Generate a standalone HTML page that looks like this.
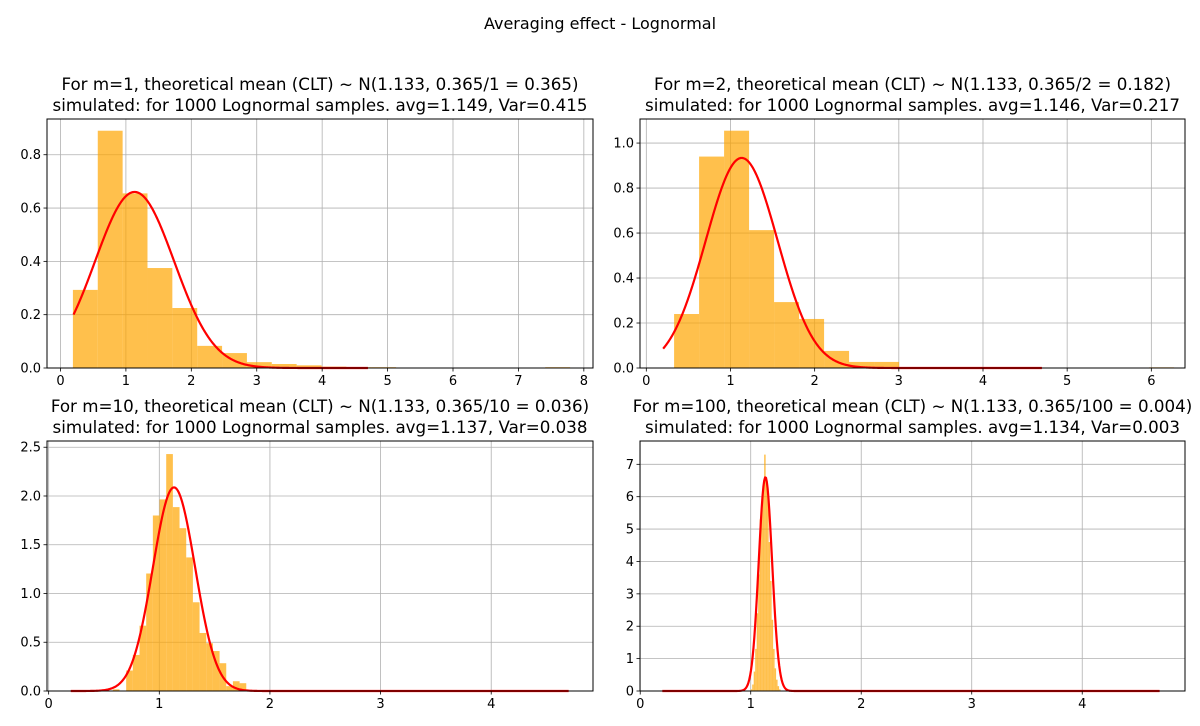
<!DOCTYPE html>
<html><head><meta charset="utf-8"><style>
body{margin:0;background:#fff;}
svg{display:block;font-family:"DejaVu Sans","Liberation Sans",sans-serif;}
</style></head><body>
<svg id="fig" width="1200" height="726" viewBox="0 0 1200 726" xmlns="http://www.w3.org/2000/svg">
<text x="600" y="29" text-anchor="middle" font-size="16">Averaging effect - Lognormal</text>
</svg>
<script>
// ---- data ----
const p1Hist = [0.293,0.89,0.655,0.375,0.225,0.083,0.056,0.022,0.015,0.01,0.005,0.003,0.003,0,0,0,0,0,0,0.003];
const p2Hist = [0.24,0.94,1.055,0.613,0.293,0.218,0.076,0.027,0.027,0.003,0.003,0.003,0,0,0,0,0,0,0,0.003];
const p3Hist = [0.017,0,0.21,0.37,0.67,1.205,1.80,1.965,2.43,1.886,1.67,1.37,0.91,0.595,0.49,0.41,0.285,0.05,0.1,0.08];
const p4Hist = [0.05,0.2,0.6,1.3,2.4,3.6,5.3,5.6,6.3,7.3,6.6,6.0,4.6,3.4,2.2,1.3,0.7,0.35,0.15,0.05];
const binStart = [0.19,0.33,0.58,1.0];
const binWidth = [0.38,0.297,0.0603,0.0135];
const mValues = [1,2,10,100];
const cltMean = 1.133;
const cltVar = 0.365;
const simAvg = ["1.149","1.146","1.137","1.134"];
const simVar = ["0.415","0.217","0.038","0.003"];
const xTicks = [[0,1,2,3,4,5,6,7,8],[0,1,2,3,4,5,6],[0,1,2,3,4],[0,1,2,3,4]];
const yTicks = [[0,0.2,0.4,0.6,0.8],[0,0.2,0.4,0.6,0.8,1.0],[0,0.5,1.0,1.5,2.0,2.5],[0,1,2,3,4,5,6,7]];
const yTickLabels = [["0.0","0.2","0.4","0.6","0.8"],["0.0","0.2","0.4","0.6","0.8","1.0"],["0.0","0.5","1.0","1.5","2.0","2.5"],["0","1","2","3","4","5","6","7"]];
const xLims = [[-0.206,8.14],[-0.075,6.40],[-0.015,4.92],[-0.002,4.93]];
const yLims = [[0,0.934],[0,1.107],[0,2.564],[0,7.72]];
const curveRange = [0.2,4.7];
// ---- layout ----
const boxes=[[47,119,593,368],[640,119,1185,368],[47,441,593,691],[640,441,1185,691]];
const NS="http://www.w3.org/2000/svg";
const svg=document.getElementById('fig');
function mk(tag,attrs,parent){const e=document.createElementNS(NS,tag);for(const k in attrs)e.setAttribute(k,attrs[k]);(parent||svg).appendChild(e);return e;}
const hists=[p1Hist,p2Hist,p3Hist,p4Hist];
for(let p=0;p<4;p++){
  const [L,T,R,B]=boxes[p];
  const g=mk('g',{});
  
  
  const sx=v=>L+(v-xLims[p][0])/(xLims[p][1]-xLims[p][0])*(R-L);
  const sy=v=>B-(v-yLims[p][0])/(yLims[p][1]-yLims[p][0])*(B-T);
  xTicks[p].forEach(t=>{const l=mk('line',{x1:sx(t),x2:sx(t),y1:T,y2:B,stroke:'#b0b0b0','stroke-width':0.8},g);
    
    });
  yTicks[p].forEach(t=>{const l=mk('line',{x1:L,x2:R,y1:sy(t),y2:sy(t),stroke:'#b0b0b0','stroke-width':0.8},g);
    
    });
  hists[p].forEach((v,i)=>{if(v<=0)return;
    const x0=sx(binStart[p]+i*binWidth[p]),x1=sx(binStart[p]+(i+1)*binWidth[p]);
    const r=mk('rect',{x:x0,y:sy(v),width:Math.max(x1-x0,0.5),height:sy(0)-sy(v),fill:'#ffa500','fill-opacity':0.7},g);
    
    });
  const vv=cltVar/mValues[p];let d='';
  for(let k=0;k<=600;k++){const x=curveRange[0]+(curveRange[1]-curveRange[0])*k/600;
    const y=Math.exp(-Math.pow(x-cltMean,2)/(2*vv))/Math.sqrt(2*Math.PI*vv);
    d+=(k?'L':'M')+sx(x).toFixed(2)+','+sy(y).toFixed(2);}
  const c=mk('path',{d:d,fill:'none',stroke:'#ff0000','stroke-width':2.2,'stroke-linejoin':'round'},g);
  
  
  const f=mk('rect',{x:L,y:T,width:R-L,height:B-T,fill:'none',stroke:'#000','stroke-width':1},g);
  
  
  xTicks[p].forEach(t=>{mk('line',{x1:sx(t),x2:sx(t),y1:B,y2:B+3.5,stroke:'#000','stroke-width':0.8},g);
    const tx=mk('text',{x:sx(t),y:B+17,'text-anchor':'middle','font-size':13},g);tx.textContent=t;
    
    });
  yTicks[p].forEach((t,i)=>{mk('line',{x1:L-3.5,x2:L,y1:sy(t),y2:sy(t),stroke:'#000','stroke-width':0.8},g);
    const tx=mk('text',{x:L-6,y:sy(t)+4.5,'text-anchor':'end','font-size':13},g);tx.textContent=yTickLabels[p][i];
    
    });
  const cx=(L+R)/2;
  const v2=(cltVar/mValues[p]).toFixed(3);
  const t1=mk('text',{x:cx,y:T-29,'text-anchor':'middle','font-size':16.7},g);
  t1.textContent='For m='+mValues[p]+', theoretical mean (CLT) ~ N('+cltMean.toFixed(3)+', '+cltVar.toFixed(3)+'/'+mValues[p]+' = '+v2+')';
  
  
  const t2=mk('text',{x:cx,y:T-8,'text-anchor':'middle','font-size':16.7},g);
  t2.textContent='simulated: for 1000 Lognormal samples. avg='+simAvg[p]+', Var='+simVar[p];
  
  
}
</script>
</body></html>
